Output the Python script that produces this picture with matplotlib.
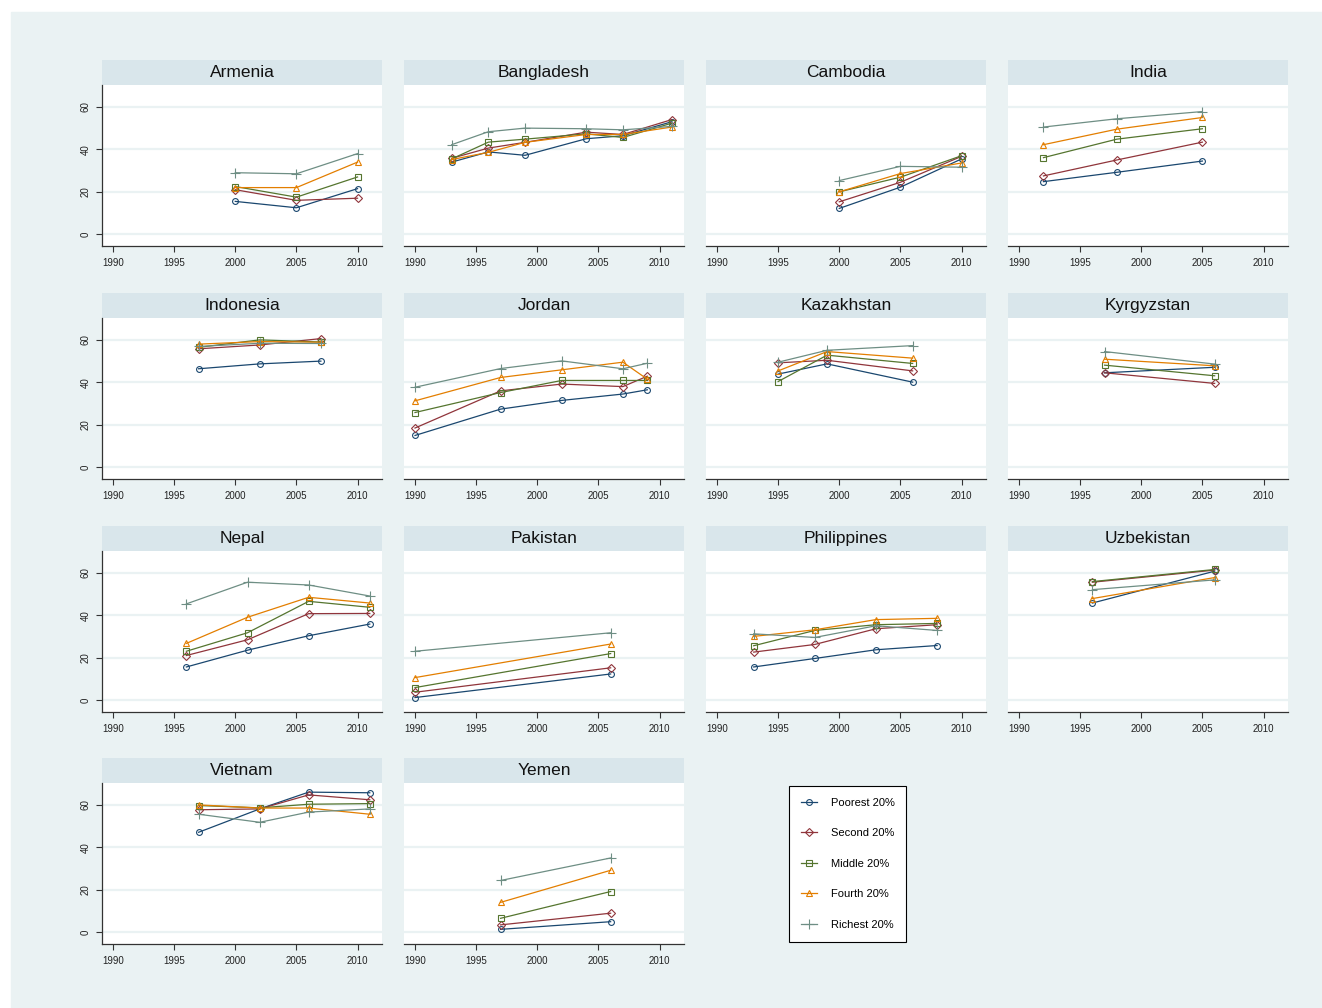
import numpy as np
import matplotlib
matplotlib.use('Agg')
import matplotlib.pyplot as plt
from matplotlib.lines import Line2D
from matplotlib.patches import Rectangle

plt.rcParams['font.family'] = ['Liberation Sans', 'DejaVu Sans']

# data (share, %)
countries = ['Armenia', 'Bangladesh', 'Cambodia', 'India',
             'Indonesia', 'Jordan', 'Kazakhstan', 'Kyrgyzstan',
             'Nepal', 'Pakistan', 'Philippines', 'Uzbekistan',
             'Vietnam', 'Yemen']
years = [[2000, 2005, 2010],
         [1993, 1996, 1999, 2004, 2007, 2011],
         [2000, 2005, 2010],
         [1992, 1998, 2005],
         [1997, 2002, 2007],
         [1990, 1997, 2002, 2007, 2009],
         [1995, 1999, 2006],
         [1997, 2006],
         [1996, 2001, 2006, 2011],
         [1990, 2006],
         [1993, 1998, 2003, 2008],
         [1996, 2006],
         [1997, 2002, 2006, 2011],
         [1997, 2006]]
poorest = [[15.5, 12.5, 21.5],
           [34.0, 38.8, 37.2, 45.0, 46.4, 53.0],
           [12.2, 22.2, 35.5],
           [24.8, 29.2, 34.5],
           [46.4, 48.7, 50.0],
           [15.0, 27.4, 31.5, 34.5, 36.5],
           [43.9, 48.7, 40.1],
           [44.5, 47.1],
           [15.7, 23.6, 30.4, 35.9],
           [1.3, 12.4],
           [15.7, 19.7, 23.8, 25.8],
           [45.8, 60.8],
           [47.1, 58.1, 66.0, 65.7],
           [1.4, 5.0]]
second = [[21.0, 16.0, 17.0],
          [35.8, 40.6, 43.3, 48.1, 47.0, 54.0],
          [15.3, 24.5, 36.7],
          [27.5, 35.0, 43.4],
          [55.8, 57.6, 60.6],
          [18.5, 36.0, 39.2, 38.0, 42.9],
          [49.2, 50.4, 45.4],
          [44.5, 39.5],
          [21.1, 28.5, 40.8, 40.9],
          [3.8, 15.3],
          [22.7, 26.3, 33.7, 35.6],
          [55.6, 61.3],
          [57.7, 58.1, 64.7, 62.4],
          [3.5, 9.0]]
middle = [[22.5, 17.5, 27.0],
          [35.5, 43.4, 44.8, 47.3, 45.6, 52.3],
          [20.0, 26.9, 37.0],
          [36.1, 44.8, 49.7],
          [56.5, 60.0, 59.0],
          [25.8, 35.2, 40.9, 40.9, 40.9],
          [40.4, 52.8, 48.9],
          [48.1, 43.1],
          [23.1, 31.8, 46.6, 43.8],
          [6.0, 22.0],
          [25.7, 32.9, 35.6, 36.2],
          [55.9, 61.6],
          [59.7, 58.6, 60.3, 60.6],
          [6.6, 19.2]]
fourth = [[22.0, 22.0, 34.0],
          [35.2, 38.6, 43.3, 47.0, 47.0, 50.5],
          [20.0, 28.6, 33.6],
          [42.2, 49.5, 55.0],
          [58.0, 59.2, 58.9],
          [31.3, 42.3, 45.9, 49.5, 41.5],
          [45.4, 54.5, 51.4],
          [50.9, 47.8],
          [26.8, 39.1, 48.5, 45.8],
          [10.7, 26.5],
          [30.1, 33.2, 38.0, 38.6],
          [47.9, 57.8],
          [60.0, 58.5, 58.5, 55.6],
          [14.1, 29.2]]
richest = [[29.0, 28.5, 38.0],
           [42.2, 48.3, 50.0, 49.7, 49.2, 50.8],
           [25.3, 32.0, 31.6],
           [50.5, 54.4, 57.8],
           [56.9, 58.4, 58.3],
           [37.7, 46.5, 50.1, 46.4, 49.0],
           [49.5, 55.1, 57.3],
           [54.5, 48.6],
           [45.4, 55.6, 54.3, 49.1],
           [23.1, 31.8],
           [31.3, 29.6, 35.1, 32.9],
           [52.1, 56.7],
           [55.6, 51.8, 56.6, 58.1],
           [24.4, 35.0]]

labels = ['Poorest 20%', 'Second 20%', 'Middle 20%', 'Fourth 20%', 'Richest 20%']
colors = ['#1a476f', '#90353b', '#55752f', '#e37e00', '#6e8e84']
markers = ['o', 'D', 's', '^', '+']
msizes = [4.2, 3.8, 4.2, 4.8, 7.0]
series = [poorest, second, middle, fourth, richest]

W, H = 1322, 1008
fig = plt.figure(figsize=(W / 100, H / 100), dpi=100, facecolor='white')
fig.patches.append(Rectangle((11 / W, 0), 1 - 11 / W, 1 - 12 / H,
                             transform=fig.transFigure, color='#eaf2f3',
                             zorder=-10))

bg = '#eaf2f3'
strip = '#d9e6eb'
col_x = [102, 404, 706, 1008]
row_y = [60, 293, 526, 758]
pw, sh, ph = 280, 25, 161


def px(x, y, w, h):
    return [x / W, 1 - (y + h) / H, w / W, h / H]


for i, name in enumerate(countries):
    r, c = divmod(i, 4)
    x0, y0 = col_x[c], row_y[r]

    sax = fig.add_axes(px(x0, y0, pw, sh))
    sax.set_facecolor(strip)
    sax.set_xticks([])
    sax.set_yticks([])
    for s in sax.spines.values():
        s.set_visible(False)
    sax.text(0.5, 0.5, name, ha='center', va='center', fontsize=12.5,
             color='#111111', transform=sax.transAxes)

    ax = fig.add_axes(px(x0, y0 + sh, pw, ph))
    ax.set_facecolor('white')
    ax.set_xlim(1989.1, 2012)
    ax.set_ylim(-5.5, 70.3)
    ax.set_yticks([0, 20, 40, 60])
    ax.set_xticks([1990, 1995, 2000, 2005, 2010])
    ax.grid(axis='y', color=bg, lw=1.6)
    ax.set_axisbelow(True)
    for s in ['top', 'right']:
        ax.spines[s].set_visible(False)
    ax.spines['bottom'].set_color('#333333')
    ax.spines['bottom'].set_linewidth(0.9)
    ax.tick_params(axis='x', length=4, width=0.8, color='#333333',
                   labelsize=7, pad=4.5, labelcolor='#222222')
    if c == 0:
        ax.spines['left'].set_color('#333333')
        ax.spines['left'].set_linewidth(0.9)
        ax.tick_params(axis='y', length=4, width=0.8, color='#333333',
                       labelsize=7, pad=4, labelcolor='#222222')
        for t in ax.get_yticklabels():
            t.set_rotation(90)
            t.set_va('center')
    else:
        ax.spines['left'].set_visible(False)
        ax.tick_params(axis='y', length=0, labelleft=False)

    for k in range(5):
        ax.plot(years[i], series[k][i], color=colors[k], lw=0.9,
                marker=markers[k], ms=msizes[k], mfc='none',
                mec=colors[k], mew=0.8)

handles = [Line2D([], [], color=colors[k], lw=0.9, marker=markers[k],
                  ms=msizes[k], mfc='none', mec=colors[k], mew=0.8)
           for k in range(5)]
leg = fig.legend(handles, labels, loc='upper left',
                 bbox_to_anchor=(789 / W, 1 - 786 / H),
                 frameon=True, fancybox=False, fontsize=8,
                 handlelength=1.5, handletextpad=1.2, labelspacing=1.85,
                 borderpad=1.05, borderaxespad=0, framealpha=1)
leg.get_frame().set_edgecolor('black')
leg.get_frame().set_facecolor('white')
leg.get_frame().set_linewidth(0.8)

fig.savefig('out.png', dpi=100, facecolor='white')
